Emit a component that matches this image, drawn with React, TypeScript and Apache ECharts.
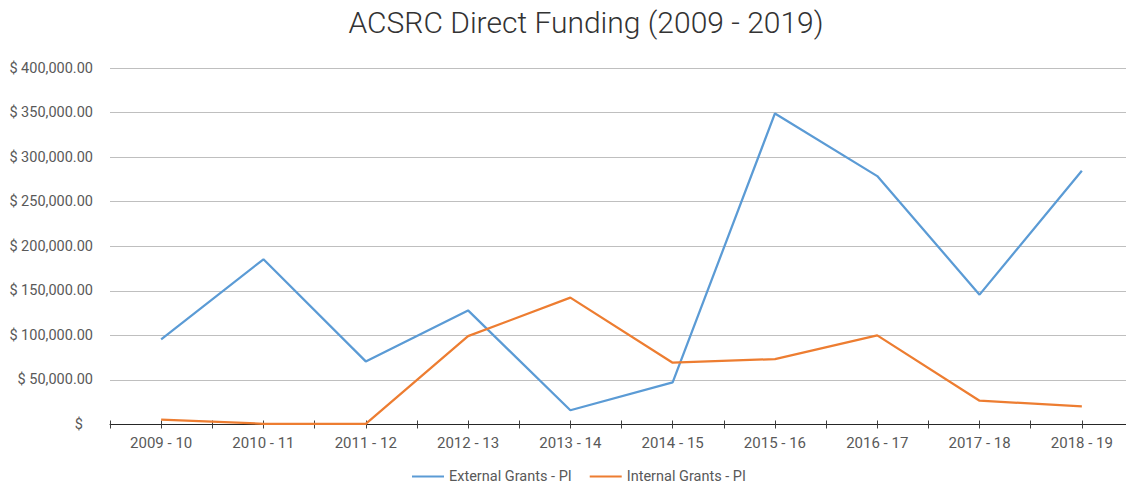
import React, { useEffect, useRef } from "react";
import * as echarts from "echarts";

const categories = [
  "2009 - 10", "2010 - 11", "2011 - 12", "2012 - 13", "2013 - 14",
  "2014 - 15", "2015 - 16", "2016 - 17", "2017 - 18", "2018 - 19",
];
const externalGrants = [95500, 185400, 70800, 128000, 16000, 47200, 349000, 278700, 145700, 284800];
const internalGrants = [5600, 800, 800, 99200, 142300, 69300, 73400, 100000, 26700, 20400];
const yTicks = { min: 0, max: 400000, interval: 50000 };

const FONT = "Roboto, 'Noto Sans', sans-serif";

export default function App() {
  const ref = useRef<HTMLDivElement>(null);
  useEffect(() => {
    if (!ref.current) return;
    const chart = echarts.init(ref.current, undefined, { renderer: "svg" });
    const tickAxis = (inside: boolean) => ({
      type: "value",
      position: "bottom",
      min: 0,
      max: categories.length * 2,
      interval: 1,
      axisLine: { show: false },
      axisLabel: { show: false },
      splitLine: { show: false },
      axisTick: { show: true, inside, length: 4, lineStyle: { color: "#404040", width: 1 } },
    });
    chart.setOption({
      animation: false,
      backgroundColor: "#ffffff",
      title: {
        text: "ACSRC Direct Funding (2009 - 2019)",
        left: 581,
        textAlign: "center",
        top: 2,
        textStyle: { fontFamily: FONT, fontSize: 30, fontWeight: 300, color: "#333333" },
      },
      legend: {
        left: 407,
        top: 464,
        padding: [5, 5, 2, 5],
        itemWidth: 32,
        itemHeight: 2,
        itemGap: 18,
        icon: "rect",
        textStyle: { fontFamily: FONT, fontSize: 14.5, color: "#595959" },
        data: ["External Grants - PI", "Internal Grants - PI"],
      },
      grid: { left: 110, right: 7, top: 68, bottom: 60.5, containLabel: false },
      xAxis: [
        {
          type: "category",
          data: categories,
          boundaryGap: true,
          axisLine: { show: true, onZero: false, lineStyle: { color: "#262626", width: 1 } },
          axisTick: { show: false },
          axisLabel: { margin: 11, fontFamily: FONT, fontSize: 15, color: "#595959" },
          splitLine: { show: false },
        },
        tickAxis(false),
        tickAxis(true),
      ],
      yAxis: {
        type: "value",
        min: yTicks.min,
        max: yTicks.max,
        interval: yTicks.interval,
        axisLine: { show: false },
        axisTick: { show: false },
        splitLine: { lineStyle: { color: "#bfbfbf", width: 1 } },
        axisLabel: {
          margin: 17,
          fontFamily: FONT,
          fontSize: 14.5,
          color: "#595959",
          formatter: (v: number) =>
            v === 0
              ? "{z|$}"
              : "$ " + v.toLocaleString("en-US", { minimumFractionDigits: 2, maximumFractionDigits: 2 }),
          rich: {
            z: { fontFamily: FONT, fontSize: 14.5, color: "#595959", padding: [0, 10, 0, 0] },
          },
        },
      },
      series: [
        {
          name: "External Grants - PI",
          type: "line",
          data: externalGrants,
          symbol: "none",
          lineStyle: { color: "#5B9BD5", width: 2.25 },
          itemStyle: { color: "#5B9BD5" },
        },
        {
          name: "Internal Grants - PI",
          type: "line",
          data: internalGrants,
          symbol: "none",
          lineStyle: { color: "#ED7D31", width: 2.25 },
          itemStyle: { color: "#ED7D31" },
        },
      ],
    });
    return () => chart.dispose();
  }, []);
  return (
    <div
      style={{
        position: "fixed",
        left: 0,
        top: 0,
        width: 1126,
        height: 485,
        overflow: "hidden",
        background: "#fff",
      }}
    >
      <div ref={ref} style={{ width: 1140, height: 485 }} />
    </div>
  );
}
